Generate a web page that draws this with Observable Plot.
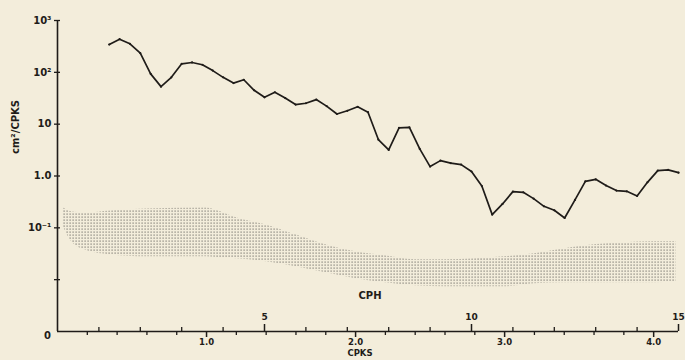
<!DOCTYPE html>
<html>
<head>
<meta charset="utf-8">
<script src="https://cdn.jsdelivr.net/npm/d3@7"></script>
<script src="https://cdn.jsdelivr.net/npm/@observablehq/plot@0.6"></script>
<style>
  html, body { margin: 0; padding: 0; background: #f3eddb; }
  svg { display: block; }
</style>
</head>
<body>
<div id="chart"></div>
<script>
// Spectrum (cm^2/CPKS) read at frequencies in CPH
const cph = [1.25, 1.5, 1.75, 2.0, 2.25, 2.5, 2.75, 3.0, 3.25, 3.5, 3.75, 4.0,
  4.25, 4.5, 4.75, 5.0, 5.25, 5.5, 5.75, 6.0, 6.25, 6.5, 6.75, 7.0,
  7.25, 7.5, 7.75, 8.0, 8.25, 8.5, 8.75, 9.0, 9.25, 9.5, 9.75, 10.0,
  10.25, 10.5, 10.75, 11.0, 11.25, 11.5, 11.75, 12.0, 12.25, 12.5, 12.75, 13.0,
  13.25, 13.5, 13.75, 14.0, 14.25, 14.5, 14.75, 15.0];
const spectrum = [344, 436, 355, 234, 93.5, 53, 80, 146, 155, 140, 108, 80,
  62, 72, 45, 33, 41.3, 31.9, 23.9, 25.3, 29.8, 22.3, 15.7, 18.1,
  21.6, 17, 5.05, 3.19, 8.5, 8.7, 3.33, 1.52, 1.98, 1.77, 1.66, 1.22,
  0.64, 0.18, 0.289, 0.50, 0.484, 0.366, 0.26, 0.218, 0.155, 0.346, 0.79, 0.864,
  0.653, 0.523, 0.507, 0.413, 0.755, 1.27, 1.31, 1.16];

// Stippled band (CPKS, lower and upper bound)
const bandCpks = [0.04, 0.1, 0.2, 0.35, 0.6, 1.0, 1.1, 1.2, 1.4, 1.6, 1.8, 2.0,
  2.2, 2.4, 2.6, 2.8, 3.0, 3.2, 3.4, 3.6, 3.8, 4.0, 4.15];
const bandUpper = [0.2425, 0.203, 0.194, 0.212, 0.232, 0.2425, 0.203, 0.156, 0.114, 0.0733, 0.0471, 0.0345,
  0.029, 0.0243, 0.0243, 0.0254, 0.0277, 0.0316, 0.0394, 0.0471, 0.0515, 0.0538, 0.0538];
const bandLower = [0.1045, 0.0515, 0.0361, 0.0303, 0.0277, 0.0277, 0.0265, 0.0254, 0.0222, 0.0178, 0.0136, 0.01045,
  0.00875, 0.00767, 0.00733, 0.00733, 0.00733, 0.00838, 0.00875, 0.00875, 0.00875, 0.00875, 0.00916];

// Axis ticks and labels
const cpksMajor = [1, 2, 3, 4];
const cpksMajorLabels = ["1.0", "2.0", "3.0", "4.0"];
const cpksMinor = [0.2, 0.4, 0.6, 0.8, 1.2, 1.4, 1.6, 1.8, 2.2, 2.4, 2.6, 2.8, 3.2, 3.4, 3.6, 3.8];
const cphMajor = [5, 10, 15];
const cphMajorLabels = ["5", "10", "15"];
const cphMinor = [1, 2, 3, 4, 6, 7, 8, 9, 11, 12, 13, 14];
const yTicks = [1000, 100, 10, 1, 0.1, 0.01];
const yTickLabels = ["10³", "10²", "10", "1.0", "10⁻¹", ""];

const CPH_PER_CPKS = 3.6;
const lineData = cph.map((c, i) => ({x: c / CPH_PER_CPKS, y: spectrum[i]}));
const bandData = bandCpks.map((x, i) => ({x, lo: bandLower[i], hi: bandUpper[i]}));

const ink = "#1f1c19";
const font = "DejaVu Sans, sans-serif";
const W = 685, H = 360, mL = 57, mR = 7, mT = 20, mB = 29;
const frameH = H - mT - mB, frameW = W - mL - mR;

const chart = Plot.plot({
  width: W, height: H,
  marginLeft: mL, marginRight: mR, marginTop: mT, marginBottom: mB,
  style: {background: "#f3eddb", fontFamily: font, color: ink},
  x: {domain: [0, 15 / CPH_PER_CPKS], axis: null},
  y: {type: "log", domain: [0.001, 1000], axis: null},
  marks: [
    Plot.areaY(bandData, {x: "x", y1: "lo", y2: "hi", fill: "url(#dots)", curve: "monotone-x"}),
    // axis lines
    Plot.ruleX([0], {stroke: ink, strokeWidth: 1.6}),
    Plot.ruleY([0.001], {stroke: ink, strokeWidth: 1.6}),
    // CPKS ticks (downward)
    Plot.tickX(cpksMinor, {x: d => d, insetTop: frameH - 4, dy: 4, stroke: ink, strokeWidth: 1.3}),
    Plot.tickX(cpksMajor, {x: d => d, insetTop: frameH - 6, dy: 6, stroke: ink, strokeWidth: 1.5}),
    // CPH ticks (upward)
    Plot.tickX(cphMinor, {x: d => d / CPH_PER_CPKS, insetTop: frameH - 4, stroke: ink, strokeWidth: 1.3}),
    Plot.tickX(cphMajor, {x: d => d / CPH_PER_CPKS, insetTop: frameH - 7, stroke: ink, strokeWidth: 1.5}),
    // Y ticks
    Plot.tickY(yTicks, {y: d => d, insetRight: frameW - 6, dx: -3, stroke: ink, strokeWidth: 1.3}),
    // Y tick labels
    Plot.text(yTicks, {x: 0, y: d => d, text: (d, i) => yTickLabels[i], dx: -6, textAnchor: "end",
      fontSize: 10, fontWeight: "bold", fill: ink}),
    Plot.text(["0"], {x: 0, y: 0.001, text: d => d, dx: -10, dy: 4, fontSize: 10, fontWeight: "bold", fill: ink}),
    // X tick labels
    Plot.text(cpksMajor, {x: d => d, y: 0.001, text: (d, i) => cpksMajorLabels[i], dy: 11,
      fontSize: 8.5, fontWeight: "bold", fill: ink}),
    Plot.text(cphMajor, {x: d => d / CPH_PER_CPKS, y: 0.001, text: (d, i) => cphMajorLabels[i], dy: -14,
      fontSize: 9, fontWeight: "bold", fill: ink}),
    // axis titles
    Plot.text(["CPKS"], {frameAnchor: "bottom", text: d => d, dx: -8, dy: 24.5, fontSize: 8.5, fontWeight: "bold", fill: ink}),
    Plot.text(["CPH"], {frameAnchor: "bottom", text: d => d, dx: 2, dy: -33, fontSize: 10, fontWeight: "bold", fill: ink}),
    Plot.text(["cm²/CPKS"], {frameAnchor: "left", text: d => d, rotate: -90, dx: -42, dy: -22,
      fontSize: 10, fontWeight: "bold", fill: ink}),
    // spectrum line
    Plot.line(lineData, {x: "x", y: "y", stroke: ink, strokeWidth: 1.7}),
    Plot.dot(lineData, {x: "x", y: "y", r: 1.1, fill: ink})
  ]
});

d3.select(chart).insert("defs", ":first-child").html(
  '<pattern id="dots" width="3" height="3" patternUnits="userSpaceOnUse">' +
  '<rect x="0.5" y="0.5" width="1.2" height="1.2" fill="#7a776f"/></pattern>'
);

document.getElementById("chart").appendChild(chart);
</script>
</body>
</html>
